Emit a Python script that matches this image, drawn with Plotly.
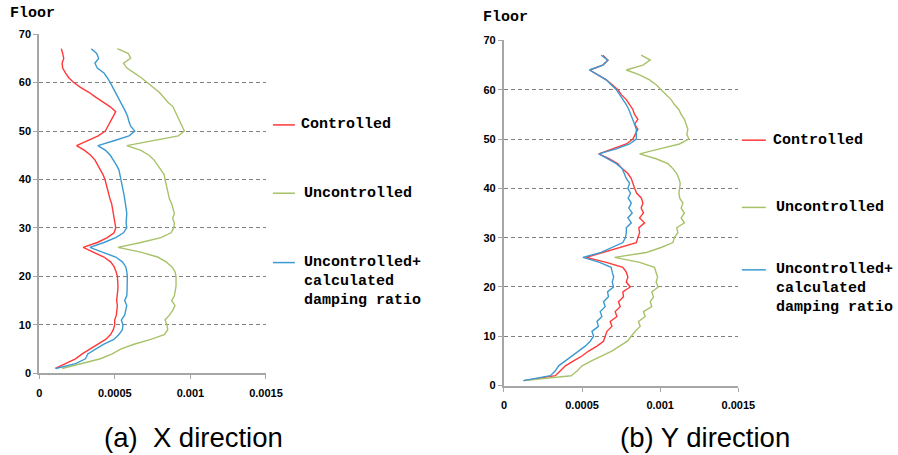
import plotly.graph_objects as go

# ---------------- data (drift values in units of 1e-4) ----------------
floors = list(range(1, 68))

x_ctrl_e4 = [1.06, 1.73, 2.40, 2.84, 3.35, 3.95, 4.39, 4.72, 4.90, 4.99,
             4.99, 5.10, 5.12, 5.17, 5.12, 5.17, 5.19, 5.21, 5.19, 5.17,
             5.08, 4.95, 4.72, 4.28, 3.57, 2.91, 3.84, 4.50, 4.95, 5.06,
             5.01, 4.96, 4.90, 4.84, 4.79, 4.68, 4.60, 4.54, 4.47, 4.35,
             4.22, 4.06, 3.90, 3.69, 3.40, 3.00, 2.47, 3.20, 3.90, 4.37,
             4.55, 4.70, 4.90, 5.06, 4.70, 4.17, 3.73, 3.28, 2.73, 2.28,
             1.95, 1.73, 1.55, 1.51, 1.62, 1.55, 1.46]
x_unc_e4 = [1.51, 2.84, 4.05, 4.83, 5.38, 6.27, 7.38, 8.27, 8.50, 8.45,
            8.32, 8.61, 8.83, 8.98, 8.76, 8.94, 9.02, 9.05, 9.05, 9.05,
            8.98, 8.76, 8.40, 7.83, 6.72, 5.21, 6.72, 8.05, 8.72, 8.90,
            8.94, 8.83, 8.94, 8.85, 8.76, 8.61, 8.55, 8.50, 8.40, 8.32,
            8.27, 8.05, 7.85, 7.60, 7.27, 6.72, 5.79, 7.60, 9.20, 9.60,
            9.45, 9.27, 9.10, 8.98, 8.85, 8.50, 8.20, 7.94, 7.55, 7.16,
            6.75, 6.28, 5.80, 5.57, 6.05, 5.90, 5.17]
x_damp_e4 = [1.10, 2.40, 3.06, 3.21, 3.73, 4.28, 4.94, 5.27, 5.50, 5.54,
             5.43, 5.65, 5.72, 5.79, 5.65, 5.79, 5.81, 5.83, 5.83, 5.83,
             5.79, 5.72, 5.50, 5.06, 4.17, 3.35, 4.28, 5.06, 5.57, 5.79,
             5.75, 5.79, 5.79, 5.75, 5.72, 5.65, 5.60, 5.54, 5.48, 5.43,
             5.36, 5.27, 5.10, 4.90, 4.70, 4.39, 3.88, 4.94, 5.94, 6.32,
             6.05, 5.93, 5.85, 5.71, 5.55, 5.38, 5.20, 5.04, 4.87, 4.70,
             4.50, 4.28, 3.84, 3.68, 3.93, 3.80, 3.44]

y_ctrl_e4 = [1.26, 3.29, 3.61, 3.93, 4.46, 4.99, 5.42, 5.95, 6.37, 6.48,
             6.59, 6.91, 6.80, 7.23, 7.12, 7.44, 7.33, 7.65, 7.61, 8.08,
             7.83, 7.93, 7.83, 7.61, 6.55, 5.27, 6.33, 7.51, 8.47, 8.57,
             8.68, 8.63, 9.00, 8.68, 8.93, 8.78, 8.89, 8.80, 8.50, 8.36,
             8.25, 8.15, 7.93, 7.57, 7.29, 6.76, 6.07, 6.97, 7.83, 8.25,
             8.42, 8.57, 8.36, 8.57, 8.36, 8.25, 8.04, 7.83, 7.51, 7.29,
             6.93, 6.55, 6.01, 5.48, 6.33, 6.65, 6.33]
y_unc_e4 = [1.26, 4.30, 4.70, 5.00, 5.60, 6.30, 6.90, 7.40, 7.90, 8.15,
            8.40, 8.72, 8.61, 9.04, 8.93, 9.46, 9.36, 9.57, 9.46, 9.87,
            9.74, 9.83, 9.74, 9.63, 8.68, 7.08, 9.11, 10.06, 10.81, 10.91,
            11.13, 11.06, 11.55, 11.34, 11.55, 11.34, 11.45, 11.25, 11.20, 11.23,
            11.28, 11.19, 11.06, 10.81, 10.49, 9.74, 8.68, 9.96, 11.23, 11.83,
            11.70, 11.77, 11.66, 11.55, 11.34, 11.19, 10.91, 10.70, 10.38, 10.06,
            9.74, 9.32, 8.68, 7.83, 8.89, 9.36, 8.78]
y_damp_e4 = [1.26, 2.97, 3.29, 3.50, 3.93, 4.35, 4.78, 5.20, 5.52, 5.74,
             5.63, 6.05, 5.95, 6.27, 6.16, 6.48, 6.37, 6.69, 6.63, 7.01,
             6.93, 7.02, 6.93, 6.86, 6.12, 5.05, 6.22, 6.97, 7.61, 7.78,
             7.83, 7.83, 8.15, 7.93, 8.21, 7.99, 8.15, 7.95, 8.10, 7.93,
             8.04, 7.83, 7.72, 7.57, 7.19, 6.65, 6.07, 7.19, 8.04, 8.47,
             8.47, 8.47, 8.36, 8.25, 8.15, 7.99, 7.83, 7.61, 7.40, 7.19,
             6.86, 6.55, 6.01, 5.48, 6.33, 6.65, 6.22]

series_names = ["Controlled", "Uncontrolled", "Uncontrolled+ calculated damping ratio"]
x_tick_vals = [0, 0.0005, 0.001, 0.0015]
x_tick_text = ["0", "0.0005", "0.001", "0.0015"]
y_tick_vals = [0, 10, 20, 30, 40, 50, 60, 70]

RED = "#FF3838"
GREEN = "#A8C26A"
BLUE = "#3C9AD2"
colors = [RED, GREEN, BLUE]

W, H = 898, 455
# small compensation for the capture's observed offset/scale
SX, OX = 0.979, 2.7
SY, OY = 0.976, 4.8
def px(x):
    return ((x - OX) / SX) / W
def py(y):
    return 1 - ((y - OY) / SY) / H

fig = go.Figure()

left = [x_ctrl_e4, x_unc_e4, x_damp_e4]
right = [y_ctrl_e4, y_unc_e4, y_damp_e4]
for vals, c, n in zip(left, colors, series_names):
    fig.add_trace(go.Scatter(x=[v * 1e-4 for v in vals], y=floors, mode="lines",
                             line=dict(color=c, width=1.4), name=n,
                             xaxis="x", yaxis="y", showlegend=False))
for vals, c, n in zip(right, colors, series_names):
    fig.add_trace(go.Scatter(x=[v * 1e-4 for v in vals], y=floors, mode="lines",
                             line=dict(color=c, width=1.4), name=n,
                             xaxis="x2", yaxis="y2", showlegend=False))

tickfont = dict(family="Liberation Sans, Arial", size=11, color="#000000", weight="bold")
axis_common_x = dict(range=[0, 0.0015], tickvals=x_tick_vals, ticktext=x_tick_text,
                     showgrid=False, zeroline=False, showline=True, linecolor="#A6A6A6",
                     linewidth=2, ticks="outside", ticklen=4, tickcolor="#A6A6A6",
                     tickwidth=1, tickfont=tickfont, ticklabelstandoff=4, fixedrange=True)
axis_common_y = dict(range=[0, 70], tickvals=y_tick_vals, showgrid=True,
                     gridcolor="#808080", gridwidth=1, griddash="4px,3px",
                     zeroline=False, showline=True, linecolor="#A6A6A6", linewidth=2,
                     ticks="outside", ticklen=4, tickcolor="#A6A6A6", tickwidth=1,
                     tickfont=tickfont, fixedrange=True)

fig.update_layout(
    width=W, height=H,
    margin=dict(l=0, r=0, t=0, b=0),
    paper_bgcolor="white", plot_bgcolor="white",
    showlegend=False,
    xaxis=dict(domain=[px(39), px(266)], anchor="y", **axis_common_x),
    yaxis=dict(domain=[py(373), py(33)], anchor="x", **axis_common_y),
    xaxis2=dict(domain=[px(504.3), px(739)], anchor="y2", **axis_common_x),
    yaxis2=dict(domain=[py(385.3), py(39.3)], anchor="x2", **axis_common_y),
)

mono = dict(family="Liberation Mono, Courier New, monospace", size=15,
            color="#000000", weight="bold")
annotations = []
shapes = []

def add_text(x, y, text, font, xanchor="left"):
    annotations.append(dict(x=px(x), y=py(y), xref="paper", yref="paper",
                            text=text, showarrow=False, xanchor=xanchor,
                            yanchor="middle", font=font, borderpad=0))

# Floor titles
add_text(9, 12, "Floor", mono)
add_text(482, 16, "Floor", mono)

# legends
def legend(x0, x1, tx, ys, lines_y):
    for yy, c in zip(ys, colors):
        shapes.append(dict(type="line", xref="paper", yref="paper",
                           x0=px(x0), x1=px(x1), y0=py(yy), y1=py(yy),
                           line=dict(color=c, width=1.5)))
    add_text(tx[0], ys[0], "Controlled", mono)
    add_text(tx[1], ys[1], "Uncontrolled", mono)
    for t, yy in zip(["Uncontrolled+", "calculated", "damping ratio"], lines_y):
        add_text(tx[1], yy, t, mono)

legend(273, 295, (300, 303), (124, 192.5, 262), (262, 281, 300))
legend(742.5, 766.5, (772.5, 776), (139.3, 206.7, 269.3), (269.3, 288.3, 307.3))

cap = dict(family="Liberation Sans, Arial", size=27.5, color="#000000")
add_text(193, 437, "(a)\u00a0\u00a0X direction", cap, xanchor="center")
add_text(706, 437, "(b) Y direction", cap, xanchor="center")

fig.update_layout(annotations=annotations, shapes=shapes)

fig.write_html("out.html", config={"displayModeBar": False},
               post_script="document.body.style.margin='0';document.body.style.padding='0';")
